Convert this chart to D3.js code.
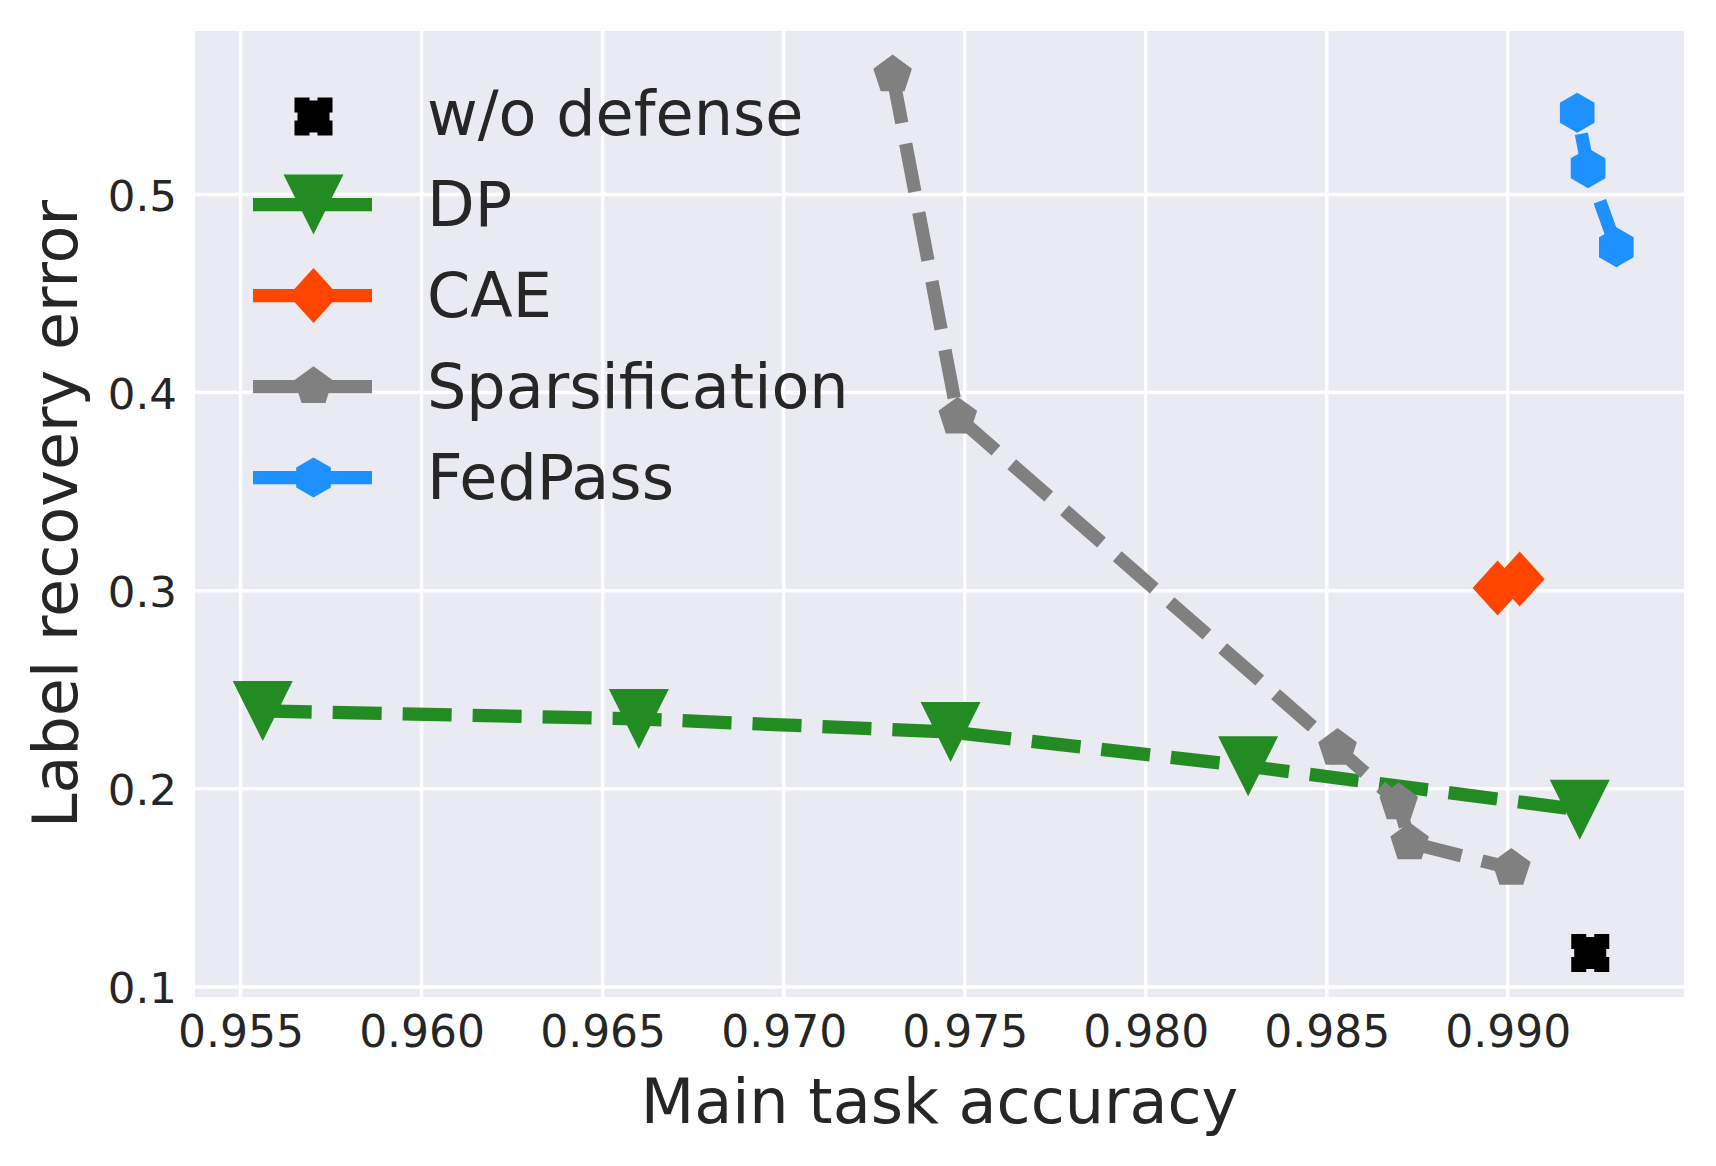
<!DOCTYPE html>
<html>
<head>
<meta charset="utf-8">
<script src="https://cdn.jsdelivr.net/npm/d3@7/dist/d3.min.js"></script>
<style>
  html, body { margin: 0; padding: 0; background: #ffffff; }
  svg { display: block; }
  text { font-family: "DejaVu Sans", sans-serif; fill: #262626; }
</style>
</head>
<body>
<svg id="chart" width="1716" height="1166"></svg>
<script>
// ---- data ----
const woX = [0.99228];
const woY = [0.1171];
const dpX = [0.95561, 0.96600, 0.97461, 0.98283, 0.99199];
const dpY = [0.2393, 0.2353, 0.2287, 0.2114, 0.1894];
const caeX = [0.98972, 0.99033];
const caeY = [0.3014, 0.3059];
const spX = [0.97301, 0.97481, 0.98530, 0.98699, 0.98729, 0.99010];
const spY = [0.5603, 0.3876, 0.2204, 0.1929, 0.1728, 0.1599];
const fpX = [0.99300, 0.99222, 0.99192];
const fpY = [0.4733, 0.5132, 0.5412];

const seriesNames = ["w/o defense", "DP", "CAE", "Sparsification", "FedPass"];
const xTicks = [0.955, 0.960, 0.965, 0.970, 0.975, 0.980, 0.985, 0.990];
const yTicks = [0.1, 0.2, 0.3, 0.4, 0.5];
const xLabel = "Main task accuracy";
const yLabel = "Label recovery error";

// ---- marker shapes ----
function triDown(s) { const h = s / 2; return `M0,${h}L${-h},${-h}L${h},${-h}Z`; }
function polygon(n, r) {
  let p = "";
  for (let k = 0; k < n; k++) {
    const a = (-90 + k * 360 / n) * Math.PI / 180;
    p += (k ? "L" : "M") + (r * Math.cos(a)).toFixed(2) + "," + (r * Math.sin(a)).toFixed(2);
  }
  return p + "Z";
}
function diamond(hw, hh) { return `M0,${-hh}L${hw},0L0,${hh}L${-hw},0Z`; }
function notchedSquare(h, nw, nd) {
  return `M${-h},${-h}L${-nw},${-h}L${-nw},${-h + nd}L${nw},${-h + nd}L${nw},${-h}L${h},${-h}` +
         `L${h},${-nw}L${h - nd},${-nw}L${h - nd},${nw}L${h},${nw}L${h},${h}` +
         `L${nw},${h}L${nw},${h - nd}L${-nw},${h - nd}L${-nw},${h}L${-h},${h}` +
         `L${-h},${nw}L${-h + nd},${nw}L${-h + nd},${-nw}L${-h},${-nw}Z`;
}

const series = [
  { name: seriesNames[0], xs: woX, ys: woY, color: "#000000", line: false, marker: notchedSquare(19, 4, 3) },
  { name: seriesNames[1], xs: dpX, ys: dpY, color: "#228B22", line: true, marker: triDown(60) },
  { name: seriesNames[2], xs: caeX, ys: caeY, color: "#FF4500", line: true, marker: diamond(25, 27.5) },
  { name: seriesNames[3], xs: spX, ys: spY, color: "#808080", line: true, marker: polygon(5, 20.3) },
  { name: seriesNames[4], xs: fpX, ys: fpY, color: "#1E90FF", line: true, marker: polygon(6, 20) }
];

// ---- layout ----
const plotLeft = 195, plotRight = 1684, plotTop = 31, plotBottom = 997;
const lineW = 13.3;
const dash = "49,21";

const allX = [].concat(woX, dpX, caeX, spX, fpX);
const allY = [].concat(woY, dpY, caeY, spY, fpY);
const xExt = d3.extent(allX), yExt = d3.extent(allY);
const xPad = (xExt[1] - xExt[0]) * 0.05, yPad = (yExt[1] - yExt[0]) * 0.05;

const x = d3.scaleLinear().domain([xExt[0] - xPad, xExt[1] + xPad]).range([plotLeft, plotRight]);
const y = d3.scaleLinear().domain([yExt[0] - yPad, yExt[1] + yPad]).range([plotBottom, plotTop]);

const svg = d3.select("#chart");
svg.append("rect").attr("width", 1716).attr("height", 1166).attr("fill", "#ffffff");
svg.append("rect").attr("x", plotLeft).attr("y", plotTop)
  .attr("width", plotRight - plotLeft).attr("height", plotBottom - plotTop).attr("fill", "#EAEAF2");

// grid
const grid = svg.append("g");
grid.selectAll(".gx").data(xTicks).join("line")
  .attr("x1", d => x(d)).attr("x2", d => x(d)).attr("y1", plotTop).attr("y2", plotBottom)
  .attr("stroke", "#ffffff").attr("stroke-width", 3.5);
grid.selectAll(".gy").data(yTicks).join("line")
  .attr("y1", d => y(d)).attr("y2", d => y(d)).attr("x1", plotLeft).attr("x2", plotRight)
  .attr("stroke", "#ffffff").attr("stroke-width", 3.5);

// axes (labels only, seaborn darkgrid style)
const xAxis = d3.axisBottom(x).tickValues(xTicks).tickFormat(d3.format(".3f")).tickSize(0).tickPadding(0);
const gx = svg.append("g").attr("transform", `translate(0,${plotBottom})`).call(xAxis);
gx.select(".domain").remove();
gx.selectAll("text").attr("y", 50).attr("dy", null)
  .style("font-size", "44px").style("font-family", "DejaVu Sans").attr("fill", "#262626");

const yAxis = d3.axisLeft(y).tickValues(yTicks).tickFormat(d3.format(".1f")).tickSize(0).tickPadding(0);
const gy = svg.append("g").attr("transform", `translate(${plotLeft},0)`).call(yAxis);
gy.select(".domain").remove();
gy.selectAll("text").attr("x", -18).attr("dy", "0.36em")
  .style("font-size", "43.5px").style("font-family", "DejaVu Sans").attr("fill", "#262626");

// axis titles
svg.append("text").attr("x", (plotLeft + plotRight) / 2).attr("y", 1122.5)
  .attr("text-anchor", "middle").style("font-size", "62px").text(xLabel);
svg.append("text").attr("transform", `translate(77,${(plotTop + plotBottom) / 2}) rotate(-90)`)
  .attr("text-anchor", "middle").style("font-size", "62px").text(yLabel);

// data
const clip = svg.append("defs").append("clipPath").attr("id", "clip")
  .append("rect").attr("x", plotLeft).attr("y", plotTop)
  .attr("width", plotRight - plotLeft).attr("height", plotBottom - plotTop);
const plot = svg.append("g").attr("clip-path", "url(#clip)");
const lineGen = d3.line().x(d => x(d[0])).y(d => y(d[1]));

series.forEach(s => {
  const pts = s.xs.map((v, i) => [v, s.ys[i]]);
  const g = plot.append("g");
  if (s.line) {
    g.append("path").attr("d", lineGen(pts)).attr("fill", "none")
      .attr("stroke", s.color).attr("stroke-width", lineW)
      .attr("stroke-dasharray", dash).attr("stroke-linecap", "butt").attr("stroke-linejoin", "round");
  }
  g.selectAll("path.m").data(pts).join("path").attr("class", "m")
    .attr("d", s.marker).attr("fill", s.color)
    .attr("transform", d => `translate(${x(d[0])},${y(d[1])})`);
});

// legend
const legX0 = 253, legX1 = 374, legTextX = 427, legY0 = 113.6, legStep = 91;
const leg = svg.append("g");
series.forEach((s, i) => {
  const cy = legY0 + i * legStep;
  const cx = (legX0 + legX1) / 2;
  if (s.line) {
    leg.append("path").attr("d", `M${legX0},${cy}L${legX1},${cy}`)
      .attr("stroke", s.color).attr("stroke-width", lineW).attr("stroke-dasharray", dash).attr("fill", "none");
  }
  leg.append("path").attr("d", s.marker).attr("fill", s.color)
    .attr("transform", `translate(${cx},${cy + (s.line ? 0 : 3)})`);
  leg.append("text").attr("x", legTextX).attr("y", cy + 21.5)
    .style("font-size", "62px").text(s.name);
});
</script>
</body>
</html>
